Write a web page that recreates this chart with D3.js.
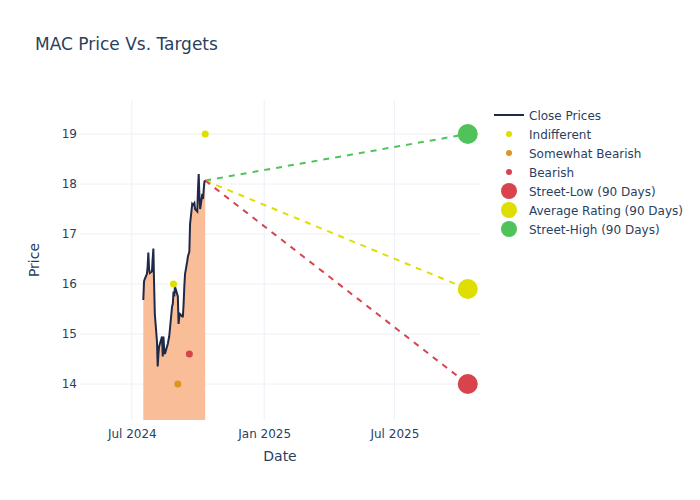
<!DOCTYPE html>
<html>
<head>
<meta charset="utf-8">
<script src="https://cdn.jsdelivr.net/npm/d3@7"></script>
<style>
  body { margin: 0; background: #fff; }
  svg { font-family: "DejaVu Sans", sans-serif; }
</style>
</head>
<body>
<div id="chart"></div>
<script>
const priceDates = [
  "2024-07-17","2024-07-18","2024-07-19","2024-07-22","2024-07-23","2024-07-24","2024-07-25","2024-07-26","2024-07-29","2024-07-30","2024-07-31",
  "2024-08-01","2024-08-02","2024-08-05","2024-08-06","2024-08-07","2024-08-08","2024-08-09","2024-08-12","2024-08-13","2024-08-14","2024-08-15","2024-08-16","2024-08-19","2024-08-20","2024-08-21","2024-08-22","2024-08-23","2024-08-26","2024-08-27","2024-08-28","2024-08-29","2024-08-30",
  "2024-09-03","2024-09-04","2024-09-05","2024-09-06","2024-09-09","2024-09-10","2024-09-11","2024-09-12","2024-09-13","2024-09-16","2024-09-17","2024-09-18","2024-09-19","2024-09-20","2024-09-23","2024-09-24","2024-09-25","2024-09-26","2024-09-27","2024-09-30",
  "2024-10-01","2024-10-02","2024-10-03","2024-10-04","2024-10-07","2024-10-08","2024-10-09","2024-10-10","2024-10-11"
];
const closePrices = [
  15.68,16.05,16.10,16.20,16.35,16.63,16.30,16.22,16.25,16.50,16.71,16.00,
  15.40,14.85,14.35,14.60,14.75,14.80,14.95,14.55,14.95,14.70,14.60,14.75,14.80,14.88,14.95,15.10,15.55,15.60,15.85,15.75,15.95,15.75,
  15.20,15.35,15.40,15.35,15.35,15.60,15.95,16.20,16.45,16.55,16.60,16.65,17.20,17.60,17.58,17.60,17.62,17.50,17.45,17.90,
  18.20,17.75,17.50,17.80,17.70,17.90,18.05,18.07
];
// Analyst ratings
const indifferentDates = ["2024-08-28","2024-10-11"];
const indifferentValues = [16.0, 19.0];
const somewhatBearishDates = ["2024-09-03"];
const somewhatBearishValues = [14.0];
const bearishDates = ["2024-09-19"];
const bearishValues = [14.6];
// Targets
const targetDate = "2025-10-11";
const streetLow = 14.0;
const averageRating = 15.9;
const streetHigh = 19.0;

const xDomain = ["2024-04-20","2025-10-28"];
const yDomain = [13.28, 19.68];
const yTicks = [14,15,16,17,18,19];
const xTicks = ["2024-07-01","2025-01-01","2025-07-01"];

const W = 700, H = 500;
const m = {l: 80, r: 220, t: 100, b: 80};
const parse = d3.utcParse("%Y-%m-%d");

const svg = d3.select("#chart").append("svg").attr("width", W).attr("height", H);
const x = d3.scaleUtc().domain(xDomain.map(parse)).range([m.l, W - m.r]);
const y = d3.scaleLinear().domain(yDomain).range([H - m.b, m.t]);

const textColor = "#2a3f5f";
const gridColor = "#ebf0f8";

// grid
svg.append("g").selectAll("line").data(yTicks).join("line")
  .attr("x1", m.l).attr("x2", W - m.r).attr("y1", d => y(d)).attr("y2", d => y(d))
  .attr("stroke", gridColor).attr("stroke-width", 1);
svg.append("g").selectAll("line").data(xTicks).join("line")
  .attr("x1", d => x(parse(d))).attr("x2", d => x(parse(d)))
  .attr("y1", m.t).attr("y2", H - m.b)
  .attr("stroke", gridColor).attr("stroke-width", 1);

// axes
const yAxis = d3.axisLeft(y).tickValues(yTicks).tickSize(0).tickPadding(3).tickFormat(d3.format("d"));
const gy = svg.append("g").attr("transform", `translate(${m.l},0)`).call(yAxis);
gy.select(".domain").remove();
gy.selectAll("text").attr("fill", textColor).style("font-size", "12px").style("font-family", "DejaVu Sans");

const xAxis = d3.axisBottom(x).tickValues(xTicks.map(parse)).tickSize(0).tickPadding(9)
  .tickFormat(d3.utcFormat("%b %Y"));
const gx = svg.append("g").attr("transform", `translate(0,${H - m.b})`).call(xAxis);
gx.select(".domain").remove();
gx.selectAll("text").attr("fill", textColor).style("font-size", "12px").style("font-family", "DejaVu Sans");

// clip
svg.append("clipPath").attr("id", "clip").append("rect")
  .attr("x", m.l).attr("y", m.t).attr("width", W - m.l - m.r).attr("height", H - m.t - m.b);
const plot = svg.append("g").attr("clip-path", "url(#clip)");

const priceData = priceDates.map((d, i) => ({date: parse(d), v: closePrices[i]}));

// fill area
plot.append("path").datum(priceData)
  .attr("d", d3.area().x(d => x(d.date)).y0(y(0)).y1(d => y(d.v)))
  .attr("fill", "#f9bd97").attr("stroke", "none");

// target dashed lines
const last = priceData[priceData.length - 1];
const targets = [
  {v: streetHigh, color: "#4fc35a"},
  {v: averageRating, color: "#dede00"},
  {v: streetLow, color: "#d8434e"}
];
plot.append("g").selectAll("line").data(targets).join("line")
  .attr("x1", x(last.date)).attr("y1", y(last.v))
  .attr("x2", x(parse(targetDate))).attr("y2", d => y(d.v))
  .attr("stroke", d => d.color).attr("stroke-width", 2).attr("stroke-dasharray", "6,6");

// close line
plot.append("path").datum(priceData)
  .attr("d", d3.line().x(d => x(d.date)).y(d => y(d.v)))
  .attr("fill", "none").attr("stroke", "#1f2a48").attr("stroke-width", 2);

// rating markers
function dots(dates, vals, color, r) {
  plot.append("g").selectAll("circle").data(dates.map((d, i) => ({date: parse(d), v: vals[i]}))).join("circle")
    .attr("cx", d => x(d.date)).attr("cy", d => y(d.v)).attr("r", r).attr("fill", color);
}
dots(indifferentDates, indifferentValues, "#dede00", 3.5);
dots(somewhatBearishDates, somewhatBearishValues, "#da961f", 3.5);
dots(bearishDates, bearishValues, "#d8434e", 3.5);
dots([targetDate], [streetLow], "#d8434e", 10);
dots([targetDate], [averageRating], "#dede00", 10);
dots([targetDate], [streetHigh], "#4fc35a", 10);

// titles
svg.append("text").attr("x", 35).attr("y", 50).text("MAC Price Vs. Targets")
  .attr("fill", textColor).style("font-size", "17px");
svg.append("text").attr("x", (m.l + W - m.r) / 2).attr("y", 461).attr("text-anchor", "middle")
  .text("Date").attr("fill", textColor).style("font-size", "14px");
svg.append("text").attr("transform", `translate(39,${(m.t + H - m.b) / 2}) rotate(-90)`)
  .attr("text-anchor", "middle").text("Price").attr("fill", textColor).style("font-size", "14px");

// legend
const legendItems = [
  {label: "Close Prices", type: "line", color: "#1f2a48"},
  {label: "Indifferent", type: "dot", color: "#dede00", r: 3},
  {label: "Somewhat Bearish", type: "dot", color: "#da961f", r: 3},
  {label: "Bearish", type: "dot", color: "#d8434e", r: 3},
  {label: "Street-Low (90 Days)", type: "dot", color: "#d8434e", r: 8},
  {label: "Average Rating (90 Days)", type: "dot", color: "#dede00", r: 8},
  {label: "Street-High (90 Days)", type: "dot", color: "#4fc35a", r: 8}
];
const lg = svg.append("g").attr("transform", "translate(494,115)");
const rows = lg.selectAll("g").data(legendItems).join("g")
  .attr("transform", (d, i) => `translate(0,${i * 19})`);
rows.filter(d => d.type === "line").append("line")
  .attr("x1", 0).attr("x2", 30).attr("y1", 0).attr("y2", 0)
  .attr("stroke", d => d.color).attr("stroke-width", 2);
rows.filter(d => d.type === "dot").append("circle")
  .attr("cx", 15).attr("cy", 0).attr("r", d => d.r).attr("fill", d => d.color);
rows.append("text").attr("x", 35).attr("y", 4.5).text(d => d.label)
  .attr("fill", textColor).style("font-size", "12px");
</script>
</body>
</html>
